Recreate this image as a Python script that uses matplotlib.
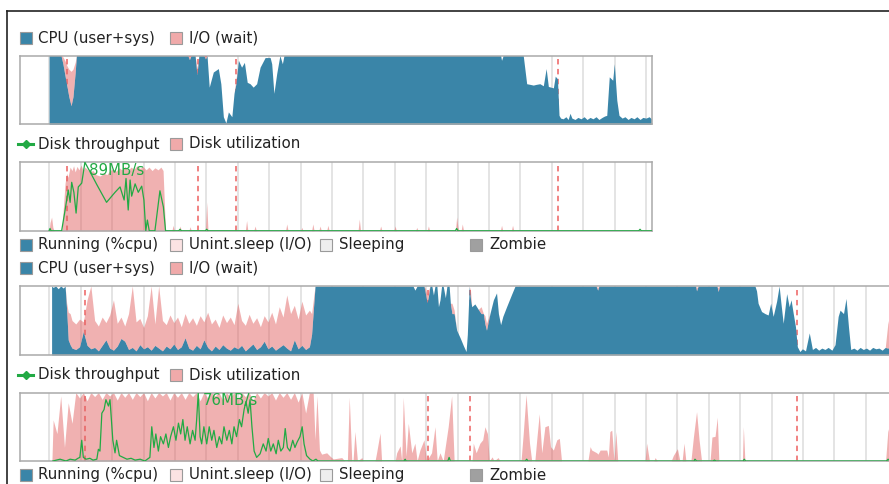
import numpy as np
import matplotlib
matplotlib.use("Agg")
import matplotlib.pyplot as plt
from matplotlib.patches import Rectangle
from matplotlib.lines import Line2D

W, H = 889, 484

# ---- run 1 : cpu (percent) ----
cpu1_t = [0.99, 1.37, 1.43, 1.50, 1.56, 1.62, 1.69, 1.75, 1.82, 1.86,
          5.41, 5.46, 5.51, 5.64, 5.70, 5.76, 5.92, 5.97, 6.02, 6.09,
          6.22, 6.38, 6.46, 6.54, 6.62, 6.70, 6.81, 6.88, 6.94, 7.02,
          7.12, 7.21, 7.30, 7.39, 7.49, 7.60, 7.71, 7.87, 8.03, 8.08,
          8.15, 8.24, 8.34, 8.42, 8.47, 15.37, 15.40, 15.45, 16.09, 16.20,
          16.31, 16.41, 16.50, 16.62, 16.73, 16.82, 16.89, 17.05, 17.11, 17.18,
          17.23, 17.28, 17.36, 17.45, 17.52, 17.58, 17.64, 17.74, 17.83, 17.93,
          18.03, 18.12, 18.22, 18.31, 18.41, 18.50, 18.60, 18.68, 18.75, 18.83,
          18.94, 18.99, 19.07, 19.14, 19.24, 19.33, 19.43, 19.52, 19.62, 19.71,
          19.81, 19.90, 20.00, 20.10, 20.17]
cpu1_user = [100, 100, 88, 70, 55, 40, 27, 40, 75, 100,
             100, 94, 100, 100, 72, 100, 100, 95, 100, 54,
             76, 81, 59, 11, 2, 18, 11, 45, 59, 93,
             83, 90, 61, 59, 54, 59, 83, 97, 97, 88,
             45, 74, 100, 88, 100, 100, 93, 100, 100, 59,
             58, 57, 58, 59, 56, 81, 55, 53, 70, 66,
             13, 9, 8, 11, 7, 16, 9, 7, 10, 8,
             11, 7, 10, 8, 11, 7, 10, 12, 13, 69,
             64, 88, 35, 13, 9, 11, 7, 10, 8, 11,
             7, 10, 9, 11, 8]
cpu1_io = [0, 0, 10, 22, 30, 40, 50, 40, 15, 0,
           0, 6, 0, 0, 10, 0, 0, 5, 0, 0,
           0, 0, 0, 0, 0, 0, 0, 0, 6, 0] + [0] * 65

# ---- run 1 : disk ----
disk1_t = [0.96, 0.99, 1.02, 1.07, 1.11, 1.15, 1.40, 1.44, 1.50, 1.55,
           1.59, 1.66, 1.72, 1.77, 1.82, 1.88, 1.94, 2.01, 2.07, 2.13,
           2.20, 2.29, 2.39, 2.48, 2.61, 2.74, 2.83, 2.93, 3.03, 3.12,
           3.22, 3.31, 3.41, 3.50, 3.60, 3.69, 3.79, 3.89, 3.98, 4.08,
           4.17, 4.27, 4.36, 4.46, 4.55, 4.62, 4.67, 4.70,
           4.90, 4.94, 4.98, 5.12, 5.16, 5.20, 5.44, 5.48, 5.52,
           5.97, 6.01, 6.05, 7.24, 7.28, 7.32, 7.51, 7.55, 7.59,
           8.52, 8.56, 8.60, 9.00, 9.04, 9.08, 9.35, 9.39, 9.43,
           9.58, 9.62, 9.66, 9.83, 9.87, 9.91, 10.83, 10.87, 10.91,
           11.51, 11.55, 11.59, 11.97, 12.01, 12.05, 12.66, 12.70, 12.74,
           13.03, 13.07, 13.11, 13.93, 13.97, 14.01, 14.05, 14.11, 14.15, 14.19,
           15.36, 15.40, 15.44, 15.71, 15.75, 15.79, 20.17]
disk1_util = [0, 0, 12, 20, 5, 0, 0, 30, 70, 84,
              78, 93, 88, 95, 86, 94, 89, 96, 88, 93,
              90, 86, 88, 82, 80, 84, 82, 88, 90, 87,
              92, 89, 94, 88, 93, 90, 95, 91, 94, 89,
              93, 88, 92, 89, 93, 88, 30, 0,
              0, 8, 0, 0, 7, 0, 0, 6, 0,
              0, 42, 0, 0, 15, 0, 0, 7, 0,
              0, 10, 0, 0, 5, 0, 0, 10, 0,
              0, 7, 0, 0, 8, 0, 0, 17, 0,
              0, 7, 0, 0, 7, 0, 0, 5, 0,
              0, 7, 0, 0, 20, 5, 0, 0, 10, 0,
              0, 8, 0, 0, 8, 0, 0]
tput1_t = [0.99, 1.02, 1.05, 1.39, 1.50, 1.60, 1.66, 1.71, 1.78, 1.85,
           1.92, 2.03, 2.13, 2.29, 2.51, 2.82, 3.09, 3.25, 3.38, 3.44,
           3.51, 3.57, 3.62, 3.73, 3.83, 3.94, 4.01, 4.07, 4.12, 4.18,
           4.36, 4.52, 4.63, 4.70, 5.12, 5.16, 5.20, 5.97, 6.01, 6.05,
           13.93, 13.97, 14.01, 19.77, 19.81, 19.85, 20.17]
tput1_mbs = [0, 3, 0, 0, 27, 53, 37, 63, 50, 23,
             57, 62, 89, 77, 60, 37, 50, 57, 40, 68,
             27, 66, 45, 61, 50, 58, 40, 0, 14, 0,
             0, 52, 31, 0, 0, 2, 0, 0, 2, 0,
             0, 3, 0, 0, 2, 0, 0]
marks1 = [1.56, 5.74, 6.94, 17.20]

# ---- run 2 : cpu ----
cpu2_t = [1.07, 1.12, 1.20, 1.28, 1.36, 1.44, 1.50, 1.55, 1.60, 1.66, 1.72,
          1.84, 1.96, 2.08, 2.20, 2.32, 2.44, 2.56, 2.68, 2.80, 2.92,
          3.04, 3.16, 3.28, 3.40, 3.52, 3.64, 3.76, 3.88, 4.00, 4.12,
          4.24, 4.36, 4.48, 4.60, 4.72, 4.84, 4.96, 5.08, 5.20, 5.32,
          5.44, 5.56, 5.68, 5.80, 5.92, 6.04, 6.16, 6.28, 6.40, 6.52,
          6.64, 6.76, 6.88, 7.00, 7.12, 7.24, 7.36, 7.48, 7.60, 7.72,
          7.84, 7.96, 8.08, 8.20, 8.32, 8.44, 8.56, 8.68, 8.80, 8.92,
          9.04, 9.16, 9.28, 9.35, 9.46,
          12.58, 12.64, 12.71, 12.93, 12.98, 13.03, 13.07, 13.12, 13.18, 13.23,
          13.28, 13.34, 13.39, 13.44, 13.49, 13.54, 13.61, 13.66, 13.73, 13.77,
          13.82, 13.89, 13.97, 14.08, 14.18, 14.27, 14.31, 14.37, 14.41, 14.45,
          14.55, 14.66, 14.75, 14.82, 14.87, 14.92, 15.03, 15.14, 15.24, 15.30,
          15.37, 15.44, 15.56, 15.72, 15.83,
          18.41, 18.46, 18.50, 21.58, 21.61, 21.66, 22.26, 22.30, 22.34, 23.47,
          23.52, 23.57, 23.68, 23.79, 23.89, 23.97, 24.05, 24.16, 24.24, 24.29,
          24.37, 24.48, 24.56, 24.62, 24.69, 24.76, 24.82, 24.90,
          24.98, 25.08, 25.20, 25.30, 25.40, 25.50, 25.60, 25.70, 25.80, 25.92,
          26.02, 26.12, 26.18, 26.29, 26.37, 26.45, 26.52, 26.62, 26.72, 26.82,
          26.92, 27.02, 27.12, 27.22, 27.32, 27.42, 27.52, 27.62, 27.70, 27.80]
cpu2_user = [100, 98, 100, 96, 100, 97, 100, 65, 22, 15, 10,
             8, 12, 34, 14, 9, 11, 6, 14, 22, 10,
             7, 13, 24, 20, 8, 11, 6, 15, 9, 12,
             7, 14, 10, 6, 13, 9, 16, 8, 12, 25,
             10, 7, 14, 9, 22, 11, 6, 13, 8, 15,
             10, 7, 12, 9, 14, 6, 11, 16, 8, 12,
             20, 9, 13, 7, 11, 15, 10, 6, 22, 9,
             14, 8, 12, 30, 100,
             100, 94, 100, 100, 88, 76, 85, 100, 100, 87,
             100, 100, 70, 80, 100, 100, 83, 100, 100, 75,
             60, 60, 36, 25, 14, 5, 30, 100, 82, 70,
             74, 66, 60, 60, 45, 36, 60, 80, 90, 60,
             44, 56, 70, 88, 100,
             100, 94, 100, 100, 93, 100, 100, 92, 100, 100,
             93, 75, 63, 60, 58, 75, 56, 78, 100, 78,
             46, 89, 70, 80, 60, 41, 12, 5,
             9, 6, 32, 8, 11, 7, 10, 8, 11, 7,
             15, 56, 65, 60, 82, 40, 8, 10, 7, 11,
             8, 10, 7, 11, 9, 10, 7, 11, 10, 12]
cpu2_io = [0, 0, 0, 0, 0, 0, 0, 10, 40, 45, 40,
           37, 40, 14, 66, 91, 39, 36, 41, 25, 48,
           73, 33, 31, 22, 52, 89, 42, 38, 31, 45,
           93, 31, 90, 44, 31, 49, 31, 47, 29, 35,
           36, 47, 29, 48, 26, 51, 39, 39, 32, 43,
           37, 48, 32, 66, 36, 37, 48, 30, 46, 29,
           37, 39, 49, 38, 59, 40, 77, 54, 50, 43,
           64, 50, 53, 30, 0,
           0, 0, 0, 0, 8, 10, 8, 0, 0, 0,
           0, 0, 0, 0, 0, 0, 0, 0, 0, 0,
           15, 5, 0, 0, 0, 0, 0, 0, 12, 0,
           0, 0, 10, 0, 12, 10, 0, 0, 0, 0,
           0, 0, 0, 0, 0,
           0, 4, 0, 0, 5, 0, 0, 6, 0, 0,
           0, 0, 0, 0, 0, 0, 0, 0, 0, 0,
           0, 0, 0, 0, 0, 0, 0, 0,
           0, 0, 0, 0, 0, 0, 0, 0, 0, 0,
           0, 0, 0, 0, 0, 0, 0, 0, 0, 0,
           0, 0, 0, 0, 0, 0, 0, 0, 35, 55]

# ---- run 2 : disk ----
disk2_t = [1.08, 1.12, 1.24, 1.36, 1.48, 1.60, 1.72, 1.84, 1.96, 2.08, 2.20,
           2.32, 2.44, 2.56, 2.68, 2.80, 2.92, 3.04, 3.16, 3.28, 3.40,
           3.52, 3.64, 3.76, 3.88, 4.00, 4.12, 4.24, 4.36, 4.48, 4.60,
           4.72, 4.84, 4.96, 5.08, 5.20, 5.32, 5.44, 5.56, 5.68, 5.80,
           5.92, 6.04, 6.16, 6.28, 6.40, 6.52, 6.64, 6.76, 6.88, 7.00,
           7.12, 7.24, 7.36, 7.48, 7.60, 7.72, 7.84, 7.96, 8.08, 8.20,
           8.32, 8.44, 8.56, 8.68, 8.80, 8.92, 9.04, 9.16, 9.28, 9.40,
           9.46, 9.52, 9.60, 9.67, 9.83, 9.94, 10.04, 10.31, 10.41, 10.49,
           10.55, 10.63, 10.67, 10.73, 10.81, 10.95, 10.99, 11.37, 11.42, 11.53,
           11.58, 12.01, 12.06, 12.17, 12.22, 12.27, 12.36, 12.43, 12.54, 12.64,
           12.71, 12.80, 12.93, 13.01, 13.17, 13.28, 13.35, 13.44, 13.54, 13.70,
           13.81, 13.89, 14.46, 14.50, 14.59, 14.71, 14.80, 14.87, 14.95, 15.01,
           15.10, 15.16, 15.29, 15.35, 16.02, 16.09, 16.18, 16.29, 16.36, 16.46,
           16.52, 16.60, 16.68, 16.78, 16.89, 16.96, 17.05, 17.16, 17.24, 17.31,
           18.15, 18.22, 18.27, 18.43, 18.47, 18.54, 18.75, 18.80, 18.85, 18.91,
           18.98, 19.04, 19.10, 19.97, 20.02, 20.11, 20.25, 20.29, 20.36, 20.80,
           20.87, 21.00, 21.08, 21.15, 21.21, 21.27, 21.43, 21.51, 21.61, 21.69,
           21.77, 22.04, 22.10, 22.20, 22.27, 22.32, 23.07, 23.10, 23.15, 27.63,
           27.70, 27.77]
disk2_util = [0, 60, 40, 95, 20, 85, 55, 100, 92, 100, 88,
              100, 94, 100, 90, 100, 95, 100, 89, 100, 93,
              100, 90, 100, 94, 100, 88, 100, 92, 100, 95,
              100, 89, 100, 93, 100, 90, 100, 94, 100, 88,
              100, 92, 100, 95, 100, 89, 100, 93, 100, 90,
              100, 94, 100, 88, 100, 92, 100, 95, 100, 89,
              100, 93, 100, 90, 100, 86, 100, 70, 100, 100,
              31, 95, 16, 10, 12, 7, 3, 5, 0, 0,
              93, 0, 0, 43, 0, 5, 0, 0, 12, 41,
              0, 0, 12, 22, 0, 93, 7, 55, 12, 26,
              0, 16, 31, 0, 12, 50, 0, 12, 0, 50,
              95, 0, 0, 26, 12, 26, 31, 50, 40, 0,
              6, 0, 5, 0, 0, 40, 97, 26, 0, 0,
              31, 69, 12, 50, 52, 21, 16, 31, 33, 0,
              0, 21, 16, 12, 10, 16, 16, 6, 43, 45,
              0, 43, 0, 0, 26, 0, 0, 5, 0, 0,
              8, 18, 0, 0, 26, 0, 0, 35, 72, 31,
              0, 0, 35, 36, 64, 0, 0, 50, 0, 0,
              43, 55]
tput2_t = [1.11, 1.34, 1.53, 1.66, 1.82, 1.91, 1.97, 2.03, 2.08, 2.17,
           2.29, 2.39, 2.51, 2.56, 2.61, 2.67, 2.74, 2.80, 2.88, 2.93,
           3.02, 3.09, 3.14, 3.23, 3.35, 3.47, 3.60, 3.73, 3.89, 4.04,
           4.20, 4.26, 4.33, 4.39, 4.47, 4.54, 4.63, 4.71, 4.79, 4.86,
           4.95, 5.03, 5.11, 5.18, 5.25, 5.32, 5.39, 5.48, 5.56, 5.64,
           5.69, 5.74, 5.80, 5.85, 5.92, 6.01, 6.09, 6.17, 6.24, 6.33,
           6.41, 6.49, 6.56, 6.65, 6.73, 6.81, 6.88, 6.96, 7.05, 7.12,
           7.20, 7.26, 7.33, 7.39, 7.45, 7.52, 7.60, 7.71, 7.81, 7.90,
           7.97, 8.05, 8.13, 8.22, 8.29, 8.37, 8.45, 8.51, 8.58, 8.66,
           8.75, 8.82, 8.89, 8.98, 9.05, 9.11, 9.19, 9.30, 9.39, 9.49,
           9.55, 12.29, 12.33, 12.36, 13.69, 13.73, 13.77, 16.16, 16.20, 16.24,
           21.53, 21.56, 21.61, 22.13, 22.18, 22.23, 23.09, 23.13, 23.17, 27.66,
           27.71, 27.77, 28.50]
tput2_mbs = [0, 2, 0, 2, 1, 3, 4, 23, 4, 2,
             3, 1, 2, 13, 11, 53, 57, 68, 61, 68,
             23, 9, 23, 6, 4, 2, 3, 1, 2, 0,
             4, 38, 15, 30, 11, 27, 19, 30, 15, 27,
             38, 23, 42, 30, 46, 23, 38, 19, 34, 23,
             46, 76, 27, 19, 38, 19, 38, 23, 34, 15,
             27, 19, 38, 23, 34, 19, 38, 27, 46, 38,
             57, 66, 53, 68, 38, 11, 4, 8, 19, 11,
             25, 11, 19, 8, 23, 11, 15, 36, 15, 11,
             23, 15, 21, 27, 38, 19, 6, 2, 0, 2,
             0, 0, 2, 0, 0, 4, 0, 0, 2, 0,
             0, 2, 0, 0, 1, 0, 0, 2, 0, 0,
             2, 0, 0]
marks2 = [2.13, 13.06, 14.39, 24.81]

CPU_C = '#3a85a8'
IO_C = '#e26464'
TPUT_C = '#22aa44'
MARK_C = '#f07878'


def fx(px):
    return px / W


def fy(py):
    return 1 - py / H


def make_axes(fig, top, bottom, right_t, marks):
    # box in pixels, time axis: 1 s = 31.4 px, t=0 at px 18
    left = 20
    right = 18 + 31.4 * right_t
    ax = fig.add_axes([fx(left), fy(bottom), (right - left) / W, (bottom - top) / H])
    ax.set_xlim(2 / 31.4, right_t)
    ax.set_ylim(0, 100)
    ax.set_xticks(np.arange(1, int(right_t) + 1))
    ax.set_yticks([])
    ax.tick_params(length=0, labelbottom=False)
    ax.grid(axis='x', color='#dcdcdc', lw=1.1)
    ax.set_axisbelow(True)
    for s in ax.spines.values():
        s.set_color('#aaaaaa')
        s.set_linewidth(1.1)
    for m in marks:
        ax.axvline(m, color=MARK_C, lw=1.3, ls=(0, (3, 2.5)), zorder=1)
    return ax


def cpu_chart(ax, t, user, io):
    t = np.array(t)
    user = np.array(user, dtype=float)
    io = np.array(io, dtype=float)
    ax.fill_between(t, 0, user, color=CPU_C, lw=0, zorder=2)
    ax.fill_between(t, user, user + io, color=IO_C, alpha=0.5, lw=0, zorder=3)


def disk_chart(ax, t, util, tt, mbs):
    ax.fill_between(t, 0, util, color=IO_C, alpha=0.5, lw=0, zorder=2)
    mbs = np.array(mbs, dtype=float)
    peak = mbs.max()
    ax.plot(tt, mbs / peak * 100, color=TPUT_C, lw=0.9, zorder=4)
    tp = tt[int(np.argmax(mbs))]
    ax.annotate(f'{peak:.0f}MB/s', xy=(tp, 100), xytext=(3.2, -9.3),
                textcoords='offset points', va='baseline', ha='left',
                fontsize=10.8, color=TPUT_C, zorder=5)


def box(px, py, face):
    fig.add_artist(Rectangle((fx(px), fy(py + 6)), 12 / W, 12 / H,
                             facecolor=face, edgecolor='#9a9a9a', lw=0.8,
                             transform=fig.transFigure))


def label(px, py, s):
    fig.text(fx(px), fy(py), s, va='center', ha='left', fontsize=10.8, color='#222222')


def cpu_legend(py):
    box(20, py, CPU_C)
    label(38, py, 'CPU (user+sys)')
    box(170, py, '#f0aaaa')
    label(189, py, 'I/O (wait)')


def disk_legend(py):
    fig.add_artist(Line2D([fx(18), fx(33)], [fy(py), fy(py)], color=TPUT_C, lw=2.2,
                          marker='o', markevery=[1], ms=0, transform=fig.transFigure))
    fig.add_artist(Line2D([fx(25.5)], [fy(py)], color=TPUT_C, marker='D', ms=4,
                          lw=0, transform=fig.transFigure))
    label(38, py, 'Disk throughput')
    box(170, py, '#f0aaaa')
    label(189, py, 'Disk utilization')


def proc_legend(py):
    box(20, py, CPU_C)
    label(38, py, 'Running (%cpu)')
    box(170, py, '#fbe3e3')
    label(189, py, 'Unint.sleep (I/O)')
    box(320, py, '#eeeeee')
    label(339, py, 'Sleeping')
    box(470, py, '#a0a0a0')
    label(489, py, 'Zombie')


fig = plt.figure(figsize=(W / 100, H / 100), dpi=100)

# page frame
fig.add_artist(Line2D([fx(6.5), 1], [fy(11), fy(11)], color='#222222', lw=1.2))
fig.add_artist(Line2D([fx(6.5), fx(6.5)], [fy(11), 0], color='#222222', lw=1.2))

# run 1
cpu_legend(38)
ax1 = make_axes(fig, 55.5, 124.3, 20.19, marks1)
cpu_chart(ax1, cpu1_t, cpu1_user, cpu1_io)
disk_legend(144)
ax2 = make_axes(fig, 162.3, 230.8, 20.19, marks1)
disk_chart(ax2, disk1_t, disk1_util, tput1_t, tput1_mbs)
proc_legend(244.5)

# run 2
cpu_legend(268)
ax3 = make_axes(fig, 286, 355, 28.5, marks2)
cpu_chart(ax3, cpu2_t, cpu2_user, cpu2_io)
disk_legend(375)
ax4 = make_axes(fig, 392.5, 461, 28.5, marks2)
disk_chart(ax4, disk2_t, disk2_util, tput2_t, tput2_mbs)
proc_legend(475)

fig.savefig('out.png', dpi=100)
